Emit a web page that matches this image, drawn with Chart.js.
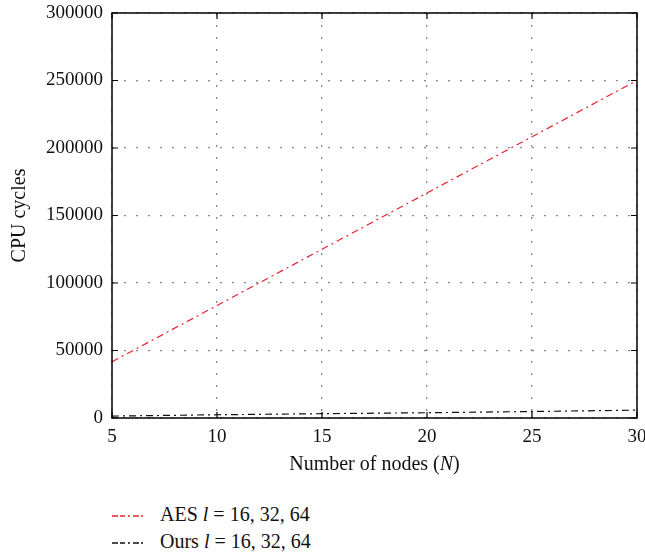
<!DOCTYPE html>
<html>
<head>
<meta charset="utf-8">
<script src="https://cdn.jsdelivr.net/npm/chart.js@4.4.0/dist/chart.umd.min.js"></script>
<style>
  body { margin: 0; background: #fff; }
  #wrap { position: relative; width: 645px; height: 554px; font-family: "Liberation Serif", "DejaVu Serif", serif; }
  #box { position: absolute; left: 0; top: 0; width: 645px; height: 480px; }
  #legend { position: absolute; left: 112px; top: 502px; font-size: 20px; color: #111; }
  #legend div { height: 27px; line-height: 24px; white-space: nowrap; }
  #legend svg { vertical-align: middle; margin-right: 17px; }
</style>
</head>
<body>
<div id="wrap">
  <div id="box"><canvas id="chart"></canvas></div>
  <div id="legend"></div>
</div>
<script>
// values
const nodes = [5, 10, 15, 20, 25, 30];
const aesCycles = [41667, 83333, 125000, 166667, 208333, 250000];
const oursCycles = [1400, 2400, 3200, 3900, 4800, 5800];
const seriesNames = ['AES', 'Ours'];
const seriesColors = ['#e8202a', '#111111'];

function toPoints(xs, ys) {
    return xs.map((x, i) => ({ x: x, y: ys[i] }));
}

const serif = '"Liberation Serif", "DejaVu Serif", serif';

// box round the plot area, inward tick marks and the x title with italic N
const frame = {
    id: 'frame',
    afterDraw(chart) {
        const ctx = chart.ctx;
        const a = chart.chartArea;
        const xs = chart.scales.x, ys = chart.scales.y;
        ctx.save();
        ctx.strokeStyle = '#000';
        ctx.lineWidth = 1.5;
        ctx.strokeRect(a.left, a.top, a.right - a.left, a.bottom - a.top);
        ctx.lineWidth = 1.2;
        ctx.beginPath();
        xs.ticks.forEach(t => {
            let px = xs.getPixelForValue(t.value);
            ctx.moveTo(px, a.bottom); ctx.lineTo(px, a.bottom - 6);
            ctx.moveTo(px, a.top); ctx.lineTo(px, a.top + 6);
        });
        ys.ticks.forEach(t => {
            let py = ys.getPixelForValue(t.value);
            ctx.moveTo(a.left, py); ctx.lineTo(a.left + 6, py);
            ctx.moveTo(a.right, py); ctx.lineTo(a.right - 6, py);
        });
        ctx.stroke();

        // x axis title
        const parts = [['Number of nodes (', 'normal'], ['N', 'italic'], [')', 'normal']];
        let total = 0;
        parts.forEach(p => { ctx.font = p[1] + ' 20px ' + serif; total += ctx.measureText(p[0]).width; });
        let x = (a.left + a.right) / 2 - total / 2;
        ctx.fillStyle = '#111';
        ctx.textBaseline = 'middle';
        parts.forEach(p => {
            ctx.font = p[1] + ' 20px ' + serif;
            ctx.fillText(p[0], x, 465);
            x += ctx.measureText(p[0]).width;
        });
        ctx.restore();
    }
};

new Chart(document.getElementById('chart'), {
    type: 'line',
    data: {
        datasets: [{
            label: seriesNames[0],
            data: toPoints(nodes, aesCycles),
            borderColor: seriesColors[0],
            borderWidth: 1.2,
            borderDash: [7, 4, 2, 4],
            pointRadius: 0,
            tension: 0
        }, {
            label: seriesNames[1],
            data: toPoints(nodes, oursCycles),
            borderColor: seriesColors[1],
            borderWidth: 1.2,
            borderDash: [7, 4, 2, 4],
            pointRadius: 0,
            tension: 0
        }]
    },
    options: {
        responsive: true,
        maintainAspectRatio: false,
        animation: false,
        layout: { padding: { top: 13, right: 8, left: 0, bottom: 0 } },
        plugins: { legend: { display: false }, tooltip: { enabled: false } },
        scales: {
            x: {
                type: 'linear',
                min: 5,
                max: 30,
                ticks: { stepSize: 5, color: '#111', padding: 8, font: { family: serif, size: 19 } },
                grid: { color: '#888', lineWidth: 1.3, drawTicks: false },
                border: { display: false, dash: [2, 10] },
                afterFit(scale) {
                    scale.height = 62;
                    scale.paddingLeft = 0;
                    scale.paddingRight = 0;
                }
            },
            y: {
                min: 0,
                max: 300000,
                ticks: {
                    stepSize: 50000,
                    color: '#111',
                    padding: 9,
                    font: { family: serif, size: 19 },
                    callback: v => String(v)
                },
                grid: { color: '#888', lineWidth: 1.3, drawTicks: false },
                border: { display: false, dash: [2, 10] },
                title: {
                    display: true,
                    text: 'CPU cycles',
                    color: '#111',
                    font: { family: serif, size: 20 },
                    padding: { top: 8, bottom: 0 }
                },
                afterFit(scale) {
                    scale.width = 112;
                    scale.paddingTop = 0;
                    scale.paddingBottom = 0;
                }
            }
        }
    },
    plugins: [frame]
});

// legend below the chart, with the same dash pattern
const legend = document.getElementById('legend');
seriesNames.forEach((name, i) => {
    let row = document.createElement('div');
    row.innerHTML = '<svg width="31" height="4"><line x1="0" y1="2" x2="31" y2="2" stroke="' + seriesColors[i] +
        '" stroke-width="1.4" stroke-dasharray="6 2 5 3 2 3"/></svg>' + name + ' <i>l</i> = 16, 32, 64';
    legend.appendChild(row);
});
</script>
</body>
</html>
